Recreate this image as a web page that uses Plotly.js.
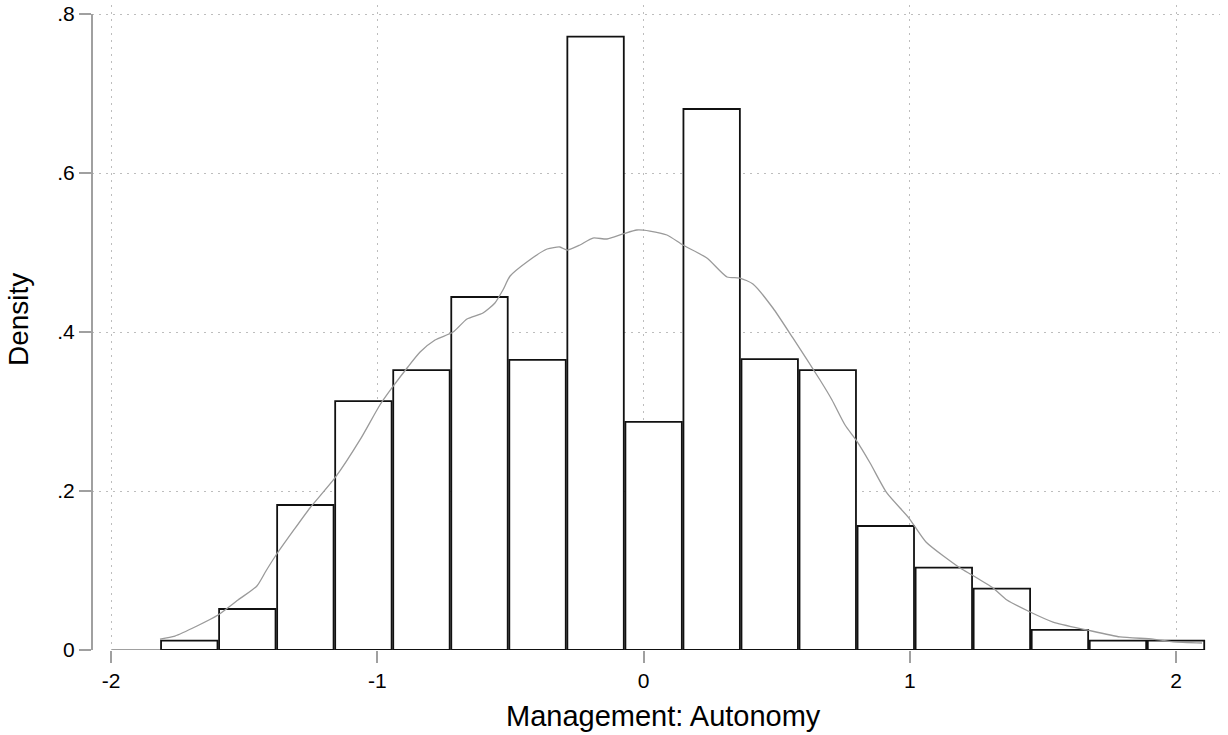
<!DOCTYPE html>
<html>
<head>
<meta charset="utf-8">
<script src="https://cdn.plot.ly/plotly-3.0.1.min.js"></script>
<style>
html,body{margin:0;padding:0;background:#fff;}
#chart{width:1228px;height:735px;}
</style>
</head>
<body>
<div id="chart"></div>
<script>
// Histogram bins
const binStart = -1.815;
const binWidth = 0.218;
const binDensity = [0.0117, 0.0516, 0.1824, 0.313, 0.352, 0.444, 0.365, 0.7715, 0.287,
                    0.6805, 0.366, 0.352, 0.156, 0.1035, 0.0771, 0.0252, 0.0117, 0.0117];

// Kernel density curve
const kdeX = [-1.816,-1.760,-1.677,-1.598,-1.523,-1.452,-1.418,-1.380,-1.316,-1.253,-1.159,-1.065,
              -0.990,-0.945,-0.885,-0.839,-0.783,-0.715,-0.663,-0.603,-0.558,-0.528,-0.501,-0.438,
              -0.362,-0.314,-0.287,-0.239,-0.190,-0.137,-0.077,-0.025,0.024,0.088,0.148,0.238,
              0.314,0.362,0.411,0.486,0.561,0.663,0.708,0.757,0.798,0.851,0.914,0.997,1.061,
              1.189,1.234,1.313,1.365,1.452,1.538,1.666,1.790,1.914,1.989,2.098];
const kdeY = [0.0138,0.0176,0.0302,0.0440,0.0629,0.0805,0.0994,0.1195,0.1497,0.1786,0.2164,0.2642,
              0.3082,0.3296,0.3560,0.3748,0.3899,0.4000,0.4164,0.4239,0.4365,0.4528,0.4704,0.4881,
              0.5044,0.5069,0.5031,0.5094,0.5182,0.5170,0.5233,0.5283,0.5270,0.5220,0.5094,0.4931,
              0.4692,0.4679,0.4604,0.4302,0.3925,0.3396,0.3145,0.2830,0.2642,0.2352,0.1975,0.1660,0.1358,
              0.1031,0.0943,0.0780,0.0629,0.0478,0.0352,0.0252,0.0164,0.0138,0.0101,0.0088];

// Ticks
const xTickVals = [-2, -1, 0, 1, 2];
const xTickText = ['-2', '-1', '0', '1', '2'];
const yTickVals = [0, 0.2, 0.4, 0.6, 0.8];
const yTickText = ['0', '.2', '.4', '.6', '.8'];

const xTitle = 'Management: Autonomy';
const yTitle = 'Density';

const binCenters = binDensity.map((_, i) => binStart + binWidth * (i + 0.5));
const binEnd = binStart + binWidth * binDensity.length;

const axisGray = '#a0a0a0';
const fontFam = '"Liberation Sans", Arial, Helvetica, sans-serif';

const traces = [
  {
    type: 'bar',
    x: binCenters,
    y: binDensity,
    width: binWidth - 0.006,
    marker: {color: '#ffffff', line: {color: '#111111', width: 1.8}},
    hoverinfo: 'skip'
  },
  {
    type: 'scatter',
    mode: 'lines',
    x: kdeX,
    y: kdeY,
    line: {color: '#9a9a9a', width: 1.3, shape: 'spline', smoothing: 0.6},
    hoverinfo: 'skip'
  }
];

const layout = {
  width: 1228,
  height: 735,
  margin: {l: 92, r: 8, t: 5, b: 85},
  paper_bgcolor: '#ffffff',
  plot_bgcolor: '#ffffff',
  showlegend: false,
  font: {family: fontFam, color: '#000'},
  xaxis: {
    range: [-2 - 19 / 266.25, 2 + 44 / 266.25],
    tickmode: 'array',
    tickvals: xTickVals,
    ticktext: xTickText,
    ticks: 'outside',
    ticklen: 12,
    tickwidth: 2,
    tickcolor: axisGray,
    tickfont: {size: 21, family: fontFam, color: '#000'},
    showgrid: true,
    gridcolor: '#bdbdbd',
    gridwidth: 1,
    griddash: '1.5px,5.5px',
    zeroline: false,
    showline: false,
    fixedrange: true
  },
  yaxis: {
    range: [0, 0.8 + 9 / 795],
    tickmode: 'array',
    tickvals: yTickVals,
    ticktext: yTickText,
    ticks: 'outside',
    ticklen: 12,
    tickwidth: 2,
    tickcolor: axisGray,
    tickfont: {size: 21, family: fontFam, color: '#000'},
    showgrid: true,
    gridcolor: '#bdbdbd',
    gridwidth: 1,
    griddash: '1.5px,5.5px',
    zeroline: false,
    showline: false,
    fixedrange: true
  },
  shapes: [
    {type: 'line', xref: 'paper', yref: 'y', x0: 0, x1: 0, y0: 0, y1: 0.8,
     line: {color: axisGray, width: 2}},
    {type: 'line', xref: 'x', yref: 'y', x0: -2, x1: binEnd, y0: 0, y1: 0,
     line: {color: axisGray, width: 2}, layer: 'below'}
  ],
  annotations: [
    {text: xTitle, xref: 'paper', yref: 'paper', x: (663 - 92) / 1128, y: (650 - 716) / 645,
     xanchor: 'center', yanchor: 'middle', showarrow: false,
     font: {size: 29, family: fontFam, color: '#000'}},
    {text: yTitle, xref: 'paper', yref: 'paper', x: (18 - 92) / 1128, y: (650 - 320) / 645,
     xanchor: 'center', yanchor: 'middle', showarrow: false, textangle: -90,
     font: {size: 28, family: fontFam, color: '#000'}}
  ]
};

Plotly.newPlot('chart', traces, layout, {staticPlot: true, displayModeBar: false});
</script>
</body>
</html>
